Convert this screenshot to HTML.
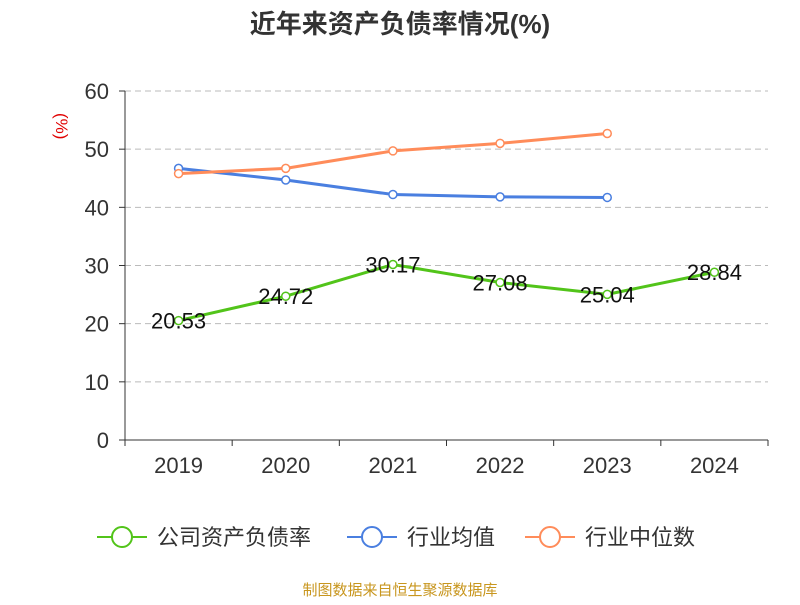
<!DOCTYPE html>
<html><head><meta charset="utf-8">
<style>
body{margin:0;background:#fff;}
svg text{font-family:"Liberation Sans","Noto Sans CJK SC",sans-serif;}
</style></head>
<body>
<svg width="800" height="600" xmlns="http://www.w3.org/2000/svg">
<text x="400" y="33" text-anchor="middle" font-size="26" font-weight="bold" fill="#333">近年来资产负债率情况(%)</text>
<text x="56" y="113" font-size="17" fill="#e00000" transform="rotate(90 56 113)">(%)</text>
<g id="grid"></g><g id="axes"></g><g id="series"></g>
<g>
 <g><line x1="97" y1="537" x2="147" y2="537" stroke="#52c41a" stroke-width="2"/><circle cx="122" cy="537" r="10" fill="#fff" stroke="#52c41a" stroke-width="2"/><text x="157" y="545" font-size="22" fill="#333">公司资产负债率</text></g>
 <g><line x1="347" y1="537" x2="397" y2="537" stroke="#4a7fe0" stroke-width="2"/><circle cx="372" cy="537" r="10" fill="#fff" stroke="#4a7fe0" stroke-width="2"/><text x="407" y="545" font-size="22" fill="#333">行业均值</text></g>
 <g><line x1="525" y1="537" x2="575" y2="537" stroke="#ff8c5a" stroke-width="2"/><circle cx="550" cy="537" r="10" fill="#fff" stroke="#ff8c5a" stroke-width="2"/><text x="585" y="545" font-size="22" fill="#333">行业中位数</text></g>
</g>
<text x="400" y="595" text-anchor="middle" font-size="15" fill="#c8961e">制图数据来自恒生聚源数据库</text>
</svg>
<script>
const categories=["2019","2020","2021","2022","2023","2024"];
const companyValues=[20.53,24.72,30.17,27.08,25.04,28.84];
const avgValues=[46.7,44.7,42.2,41.8,41.7];
const medianValues=[45.8,46.7,49.7,51.0,52.7];
const yTicks=[0,10,20,30,40,50,60];
const NS="http://www.w3.org/2000/svg";
const x0=125,x1=768,y0=440,y1=91;
const band=(x1-x0)/categories.length;
const xs=i=>x0+band*(i+0.5);
const ys=v=>y0-(v/60)*(y0-y1);
function mk(tag,attrs,parent){const e=document.createElementNS(NS,tag);for(const k in attrs)e.setAttribute(k,attrs[k]);parent.appendChild(e);return e;}
const grid=document.getElementById('grid'),axes=document.getElementById('axes'),ser=document.getElementById('series');
yTicks.forEach(t=>{
 if(t>0){const g=mk('line',{x1:x0,x2:x1,y1:ys(t),y2:ys(t),stroke:'#bbb','stroke-dasharray':'6,4'},grid);
 
 }
 mk('line',{x1:x0-6,x2:x0,y1:ys(t),y2:ys(t),stroke:'#333'},axes);
 const tx=mk('text',{x:x0-16,y:ys(t)+8,'text-anchor':'end','font-size':22,fill:'#333'},axes);tx.textContent=t;
 
 
});
mk('line',{x1:x0,x2:x0,y1:y1,y2:y0,stroke:'#333'},axes);
mk('line',{x1:x0,x2:x1,y1:y0,y2:y0,stroke:'#333'},axes);
for(let i=0;i<=categories.length;i++)mk('line',{x1:x0+band*i,x2:x0+band*i,y1:y0,y2:y0+6,stroke:'#333'},axes);
categories.forEach((c,i)=>{const t=mk('text',{x:xs(i),y:y0+33,'text-anchor':'middle','font-size':22,fill:'#333'},axes);t.textContent=c;
 
 });
function line(vals,color,name,labels){
 const g=mk('g',{},ser);
 
 
 mk('polyline',{points:vals.map((v,i)=>xs(i)+','+ys(v)).join(' '),fill:'none',stroke:color,'stroke-width':3},g);
 vals.forEach((v,i)=>{const c=mk('circle',{cx:xs(i),cy:ys(v),r:4,fill:'#fff',stroke:color,'stroke-width':1.5},g);
  
  
  if(labels){const t=mk('text',{x:xs(i),y:ys(v)+8,'text-anchor':'middle','font-size':22,fill:'#111'},g);t.textContent=v.toFixed(2);
  
  }});
}
line(avgValues,'#4a7fe0','industry-avg-line',false);
line(medianValues,'#ff8c5a','industry-median-line',false);
line(companyValues,'#52c41a','company-line',true);
</script>
</body></html>
